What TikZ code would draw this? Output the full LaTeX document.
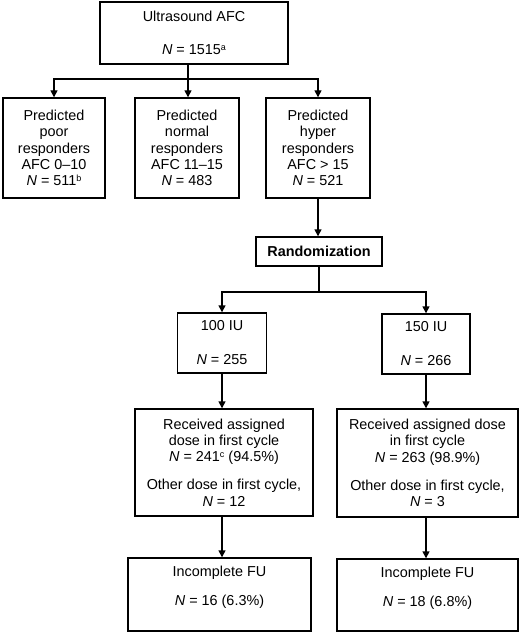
\documentclass[tikz,border=0pt]{standalone}
\usepackage{fontspec}
\setmainfont{Liberation Sans}
\usetikzlibrary{arrows.meta}
\tikzset{
  box/.style={draw, line width=1.4bp, inner sep=0pt, align=center},
  txt/.style={inner sep=0pt, align=center},
  conn/.style={line width=1.4bp},
  arr/.style={conn, -{Triangle[length=7bp,width=7bp]}},
  every node/.style={font=\fontsize{14.4bp}{16.4bp}\selectfont}
}
\newcommand{\NN}{\textit{N}}
\newcommand{\supx}[1]{\raisebox{4.2bp}{\fontsize{9bp}{9bp}\selectfont #1}}
\begin{document}
\begin{tikzpicture}[x=1bp,y=-1bp]
\useasboundingbox (0,0) rectangle (520,632);
\fill[white] (0,0) rectangle (520,632);
% boxes
\node[box, minimum width=188bp, minimum height=62bp] (top) at (194,33) {Ultrasound AFC\\[16.6bp]\NN{} = 1515\supx{a}};
\node[box, minimum width=102bp, minimum height=100bp] (b1) at (54,148) {Predicted\\poor\\responders\\AFC 0–10\\\NN{} = 511\supx{b}};
\node[box, minimum width=104bp, minimum height=100bp] (b2) at (187,148) {Predicted\\normal\\responders\\AFC 11–15\\\NN{} = 483};
\node[box, minimum width=104bp, minimum height=100bp] (b3) at (318,148) {Predicted\\hyper\\responders\\AFC > 15\\\NN{} = 521};
\node[box, minimum width=126bp, minimum height=29bp] (rand) at (319,251.5) {\textbf{Randomization}};
\node[box, minimum width=89bp, minimum height=60bp] (iu100) at (222,343) {100 IU\\[17.6bp]\NN{} = 255};
\node[box, minimum width=88bp, minimum height=60bp] (iu150) at (426,344) {150 IU\\[17.6bp]\NN{} = 266};
\node[box, minimum width=178bp, minimum height=107bp] (recL) at (224,462.5) {Received assigned\\dose in first cycle\\\NN{} = 241\supx{c} (94.5\%)\\[11.6bp]Other dose in first cycle,\\\NN{} = 12};
\node[box, minimum width=181bp, minimum height=108bp] (recR) at (427.5,463) {Received assigned dose\\in first cycle\\\NN{} = 263 (98.9\%)\\[11.6bp]Other dose in first cycle,\\\NN{} = 3};
\node[box, minimum width=183bp, minimum height=73bp] (fuL) at (219.5,594.5) {};
\node[txt] (fuLt) at (219.5,587.5) {Incomplete FU\\[12.6bp]\NN{} = 16 (6.3\%)};
\node[box, minimum width=181bp, minimum height=72bp] (fuR) at (427.5,595) {};
\node[txt] (fuRt) at (427.5,588) {Incomplete FU\\[12.6bp]\NN{} = 18 (6.8\%)};
% connectors
\coordinate (j1) at (188,79);
\coordinate (j2) at (319,292);
\draw[conn] (top.south -| j1) -- (j1);
\draw[arr] (j1) -| (b1.north);
\draw[arr] (j1) -- (j1 |- b2.north);
\draw[arr] (j1) -| (b3.north);
\draw[arr] (b3.south) -- (b3.south |- rand.north);
\draw[conn] (rand.south) -- (j2);
\draw[arr] (j2) -| (iu100.north);
\draw[arr] (j2) -| (iu150.north);
\draw[arr] (iu100.south) -- (iu100.south |- recL.north);
\draw[arr] (iu150.south) -- (iu150.south |- recR.north);
\draw[arr] (iu100.south |- recL.south) -- (iu100.south |- fuL.north);
\draw[arr] (iu150.south |- recR.south) -- (iu150.south |- fuR.north);
\end{tikzpicture}
\end{document}
